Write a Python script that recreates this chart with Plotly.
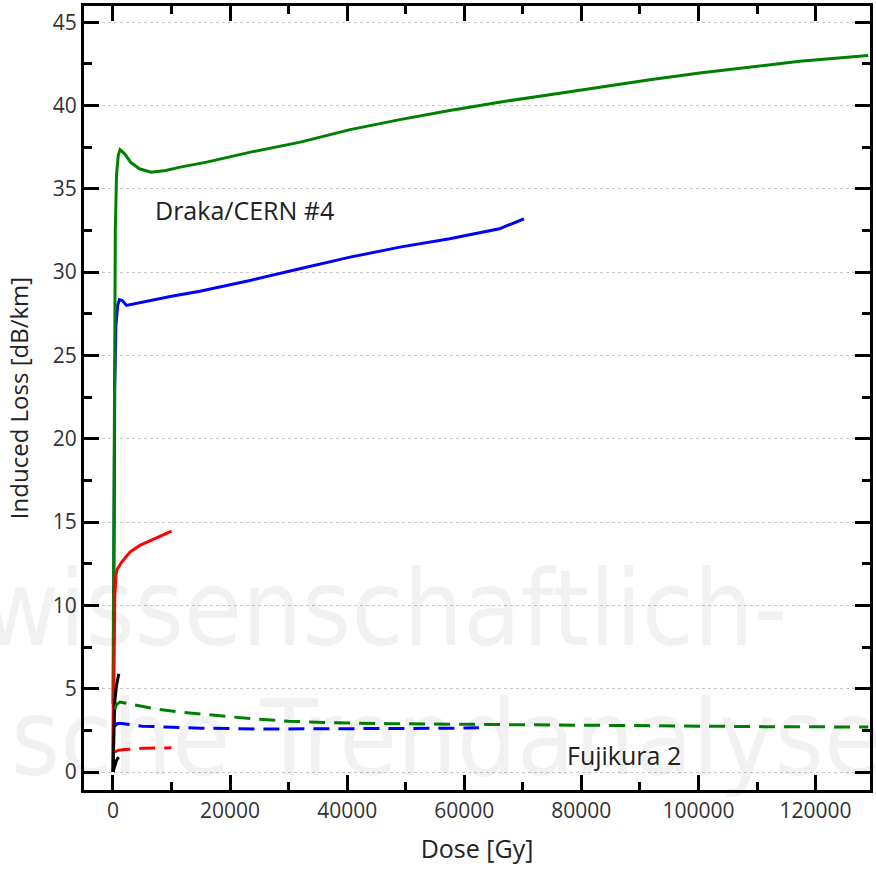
import plotly.graph_objects as go

# ---- data (Dose in Gy, Induced loss in dB/km) ----
green_solid_x = [0, 100, 200, 300, 400, 600, 900, 1200, 2000, 3000, 4500, 6500, 9000, 11500, 16000, 23500,
                 32000, 40500, 49000, 57500, 66000, 74600, 83100, 91700, 100200, 108700, 117300, 129000]
green_solid_y = [4.1, 12, 21, 28, 32.5, 35.8, 37.0, 37.35, 37.1, 36.6, 36.2, 36.0, 36.1, 36.3, 36.6, 37.2,
                 37.8, 38.55, 39.15, 39.7, 40.2, 40.65, 41.1, 41.55, 41.95, 42.3, 42.65, 43.0]

blue_solid_x = [0, 100, 200, 300, 500, 800, 1100, 1600, 2300, 3000, 6000, 10000, 14850, 23400, 31900,
                40500, 49000, 57500, 66000, 70200]
blue_solid_y = [0, 9, 17, 23, 26.8, 28.0, 28.35, 28.3, 28.0, 28.05, 28.3, 28.55, 28.85, 29.5, 30.2,
                30.9, 31.5, 32.0, 32.6, 33.2]

red_solid_x = [0, 150, 300, 500, 700, 1500, 2900, 4600, 6500, 8300, 10000]
red_solid_y = [0, 7, 10.5, 11.8, 12.15, 12.6, 13.2, 13.6, 13.9, 14.15, 14.45]

black_solid_x = [0, 150, 300, 600, 1000]
black_solid_y = [0, 2.0, 4.2, 5.2, 5.9]

green_dash_x = [300, 600, 1200, 2000, 4000, 7000, 11300, 17000, 23600, 30000, 37900, 47000, 57000,
                76000, 95000, 112000, 129000]
green_dash_y = [3.75, 4.05, 4.2, 4.15, 4.0, 3.8, 3.6, 3.4, 3.2, 3.05, 2.95, 2.9, 2.87,
                2.8, 2.75, 2.72, 2.7]

blue_dash_x = [300, 700, 1200, 3000, 5000, 9000, 15000, 25000, 40000, 55000, 62500]
blue_dash_y = [2.75, 2.9, 2.92, 2.85, 2.75, 2.7, 2.63, 2.58, 2.58, 2.62, 2.65]

red_dash_x = [300, 850, 2000, 5000, 10000]
red_dash_y = [1.2, 1.3, 1.35, 1.42, 1.45]

black_dash_x = [0, 300, 600, 1000]
black_dash_y = [0, 0.4, 0.7, 0.9]

label_texts = ["Draka/CERN #4", "Fujikura 2"]
label_x = [6800, 77200]
label_y = [33.7, 1.05]

FONT = "Open Sans"

fig = go.Figure()

def add(x, y, color, dash="solid"):
    fig.add_trace(go.Scatter(x=x, y=y, mode="lines", line=dict(color=color, width=3, dash=dash),
                             showlegend=False, hoverinfo="skip"))

DASH = "16px,9px"
add(blue_solid_x, blue_solid_y, "#0000ff")
add(green_solid_x, green_solid_y, "#008000")
add(red_solid_x, red_solid_y, "#ff0000")
add(black_solid_x, black_solid_y, "#000000")
add(green_dash_x, green_dash_y, "#008000", DASH)
add(blue_dash_x, blue_dash_y, "#0000ff", DASH)
add(red_dash_x, red_dash_y, "#ff0000", DASH)
add(black_dash_x, black_dash_y, "#000000", DASH)

# watermark
WM = dict(family="DejaVu Sans Condensed", size=105, color="rgba(0,0,0,0.055)")
fig.add_annotation(text="wissenschaftlich-", xref="paper", yref="paper", x=-0.132, y=0.15,
                   xanchor="left", yanchor="bottom", showarrow=False, font=WM)
fig.add_annotation(text="sche Trendanalysen", xref="paper", yref="paper", x=-0.095, y=-0.015,
                   xanchor="left", yanchor="bottom", showarrow=False, font=WM)

for t, lx, ly in zip(label_texts, label_x, label_y):
    fig.add_annotation(text=t, x=lx, y=ly, xanchor="left", yanchor="middle", showarrow=False,
                       font=dict(family=FONT, size=25, color="#222"))

axis_common = dict(showline=True, linecolor="black", linewidth=3, mirror="allticks",
                   ticks="inside", ticklen=15, tickwidth=3, tickcolor="black",
                   tickfont=dict(family=FONT, size=21, color="#333"), zeroline=False)

fig.update_xaxes(range=[-4950, 129300], tick0=0, dtick=20000, showgrid=False, tickformat="d",
                 minor=dict(ticks="inside", ticklen=8, tickwidth=3, tickcolor="black", dtick=10000, tick0=0),
                 title=dict(text="Dose [Gy]", font=dict(family=FONT, size=25, color="#222"), standoff=18),
                 **axis_common)
fig.update_yaxes(range=[-1.08, 45.97], tick0=0, dtick=5, showgrid=True, gridcolor="#c8c8c8",
                 griddash="dot", gridwidth=1,
                 minor=dict(ticks="inside", ticklen=8, tickwidth=3, tickcolor="black", dtick=2.5, tick0=0),
                 title=dict(text="Induced Loss [dB/km]", font=dict(family=FONT, size=24, color="#222"), standoff=18),
                 **axis_common)

fig.update_layout(width=876, height=875, margin=dict(l=84, r=6, t=3, b=85),
                  plot_bgcolor="white", paper_bgcolor="white")

fig.write_html("out.html")
